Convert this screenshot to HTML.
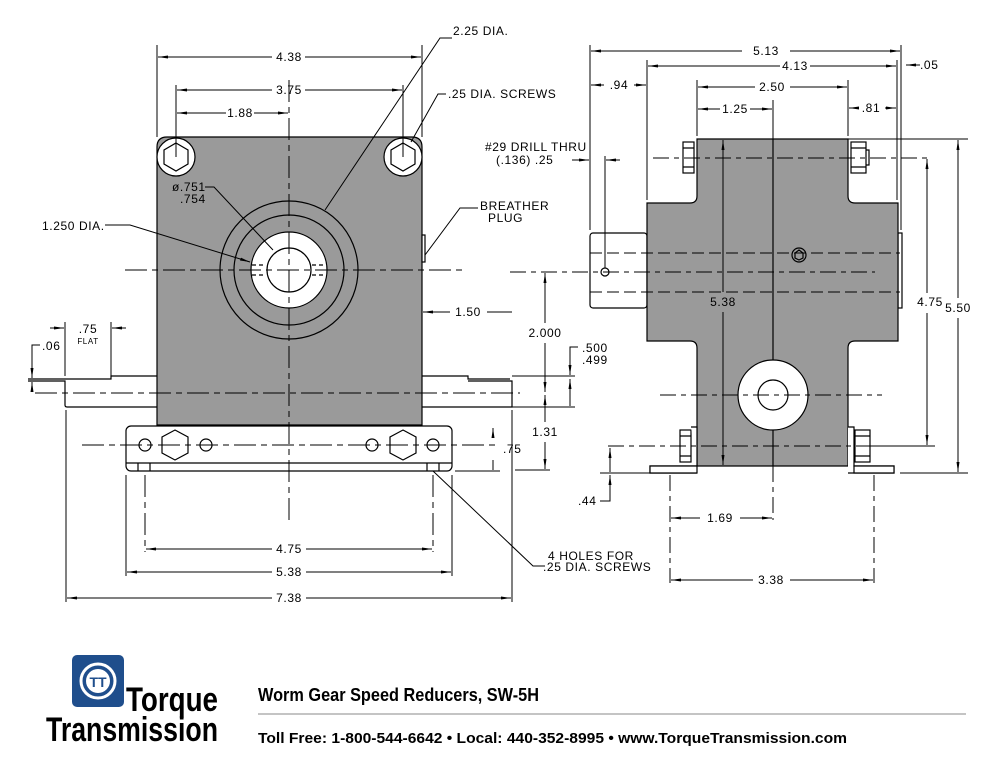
<!DOCTYPE html>
<html><head><meta charset="utf-8"><style>
body{margin:0;background:#fff;width:1000px;height:773px;overflow:hidden}
svg text{font-family:"Liberation Sans",sans-serif;fill:#000}
.d text{letter-spacing:0.6px}
</style></head><body>
<svg width="1000" height="773" viewBox="0 0 1000 773" xmlns="http://www.w3.org/2000/svg">
<defs>
<marker id="a" viewBox="0 0 10 6" refX="10" refY="3" markerWidth="10" markerHeight="6" orient="auto-start-reverse" markerUnits="userSpaceOnUse"><path d="M0,1.5 L10,3 L0,4.5" fill="#000"/></marker>
</defs>
<g stroke="#000" stroke-width="1.2" fill="none">
<path d="M157,425 V147 Q157,137 167,137 H412 Q422,137 422,147 V425 Z" fill="#9a9a9a"/>
<circle cx="176" cy="157" r="19" fill="#fff"/><circle cx="403" cy="157" r="19" fill="#fff"/>
<polygon points="176,143 188,150 188,164 176,171 164,164 164,150"/>
<polygon points="403,143 415,150 415,164 403,171 391,164 391,150"/>
<circle cx="289" cy="270" r="69"/><circle cx="289" cy="270" r="55"/>
<circle cx="289" cy="270" r="38" fill="#fff"/><circle cx="289" cy="270" r="22"/>
<path d="M252,265 H266 M252,275 H266 M312,265 H326 M312,275 H326" stroke-dasharray="4 3"/>
<rect x="422" y="235" width="3" height="27" fill="#fff"/>
<path d="M157,376 H111 V379 H28 M28,381 H65 V405 Q65,407 67,407 H157" fill="#fff"/>
<path d="M422,376 H468 V379 H510 M422,407 H512 V381 H468"/>
<rect x="126" y="426" width="326" height="45" rx="5" fill="#fff"/>
<path d="M126,463 H452 M138,463 V471 M150,463 V471 M427,463 V471 M439,463 V471"/>
<circle cx="145" cy="445" r="6"/><circle cx="206" cy="445" r="6"/><circle cx="372" cy="445" r="6"/><circle cx="433" cy="445" r="6"/>
<polygon points="175,430 188,437 188,453 175,460 162,453 162,437"/>
<polygon points="403,430 416,437 416,453 403,460 390,453 390,437"/>
<g stroke-width="1" stroke-dasharray="22 5 6 5">
<path d="M289,80 V520"/><path d="M125,270 H462"/><path d="M35,393 H520"/><path d="M82,445 H500"/>
<path d="M145,475 V552 M433,475 V552"/>
</g>
<g stroke-width="1">
<path d="M157,45 V137 M422,45 V137 M176,85 V157 M403,85 V157 M126,475 V576 M452,475 V576 M66,410 V602 M512,410 V602"/>
<path d="M65,322 V376 M111,322 V376"/>
<path d="M158,57 H272 M305,57 H421" marker-start="url(#a)" marker-end="url(#a)"/>
<path d="M177,90 H272 M305,90 H402" marker-start="url(#a)" marker-end="url(#a)"/>
<path d="M177,113 H226 M254,113 H288" marker-start="url(#a)" marker-end="url(#a)"/>
<path d="M146,549 H272 M306,549 H432" marker-start="url(#a)" marker-end="url(#a)"/>
<path d="M127,572 H272 M306,572 H451" marker-start="url(#a)" marker-end="url(#a)"/>
<path d="M67,598 H272 M306,598 H511" marker-start="url(#a)" marker-end="url(#a)"/>
<path d="M423,312 H450" marker-start="url(#a)"/><path d="M487,312 H512"/>
<path d="M50,328 H64" marker-end="url(#a)"/><path d="M126,328 H112" marker-end="url(#a)"/>
<path d="M40,345 H32 V378" marker-end="url(#a)"/><path d="M32,392 V382" marker-end="url(#a)"/>
<path d="M493,428 V437 M493,460 V470" marker-start="url(#a)"/>
<path d="M455,471 H500"/>
<path d="M105,225 H130 L250,262" marker-end="url(#a)"/>
<path d="M205,187 H214 L273,250"/>
<path d="M452,38 H440 L325,210"/>
<path d="M446,94 H438 L411,142"/>
<path d="M478,208 H460 L425,255"/>
<path d="M545,566 H533 L433,471"/>
</g>
<rect x="590" y="233" width="57" height="75" rx="3" fill="#fff"/>
<rect x="898" y="233" width="4" height="75" fill="#fff"/>
<path d="M697,139 H848 V196 Q848,203 855,203 H898 V341 H855 Q848,341 848,348 V466 H697 V348 Q697,341 690,341 H647 V203 H690 Q697,203 697,196 Z" fill="#9a9a9a"/>
<path d="M773,139 V466"/>
<circle cx="773" cy="395" r="35" fill="#fff"/><circle cx="773" cy="395" r="15"/>
<circle cx="799" cy="255" r="7"/><polygon points="799,250 803,253 803,258 799,260 795,258 795,253"/>
<circle cx="605" cy="272" r="4"/>
<rect x="683" y="142" width="11" height="31" fill="#fff"/><rect x="851" y="142" width="15" height="31" fill="#fff"/>
<path d="M683,148 H694 M683,167 H694 M851,148 H866 M851,167 H866 M866,150 H869 V165 H866"/>
<rect x="680" y="430" width="11" height="32" fill="#fff"/><rect x="855" y="430" width="15" height="32" fill="#fff"/>
<path d="M680,436 H691 M680,456 H691 M855,436 H870 M855,456 H870"/>
<path d="M691,427 H697 V466 H650 V473 H697" fill="#fff"/>
<path d="M848,427 H854 V466 H894 V473 H848" fill="#fff"/>
<path d="M650,466 H697 V473 H650 Z M854,466 H894 V473 H854 Z" fill="#fff"/>
<g stroke-width="1" stroke-dasharray="16 5 5 5">
<path d="M653,158 H930"/><path d="M608,446 H930"/>
<path d="M590,253 H900 M590,292 H900" stroke-dasharray="12 5"/>
<path d="M510,272 H875"/><path d="M660,395 H882"/>
<path d="M773,466 V520"/><path d="M670,475 V583 M874,475 V583"/>
</g>
<g stroke-width="1">
<path d="M590,45 V230 M647,60 V200 M697,80 V136 M848,80 V136 M901,45 V230 M897,60 V200 M773,100 V139"/>
<path d="M591,51 H742 M790,51 H900" marker-start="url(#a)" marker-end="url(#a)"/>
<path d="M648,66 H780 M810,66 H896" marker-start="url(#a)" marker-end="url(#a)"/>
<path d="M906,65 H920" marker-start="url(#a)"/>
<path d="M591,85 H604 M634,85 H646" marker-start="url(#a)" marker-end="url(#a)"/>
<path d="M698,87 H755 M790,87 H847" marker-start="url(#a)" marker-end="url(#a)"/>
<path d="M698,109 H720 M750,109 H772" marker-start="url(#a)" marker-end="url(#a)"/>
<path d="M849,108 H858 M885,108 H896" marker-start="url(#a)" marker-end="url(#a)"/>
<path d="M572,160 H589" marker-end="url(#a)"/><path d="M620,160 H606" marker-end="url(#a)"/>
<path d="M605,156 V268"/>
<path d="M723,140 V292 M723,312 V465" marker-start="url(#a)" marker-end="url(#a)"/>
<path d="M927,159 V293 M927,313 V445" marker-start="url(#a)" marker-end="url(#a)"/>
<path d="M958,140 V298 M958,318 V472" marker-start="url(#a)" marker-end="url(#a)"/>
<path d="M848,139 H968 M900,473 H968 M872,446 H935"/>
<path d="M545,273 V323 M545,343 V392" marker-start="url(#a)" marker-end="url(#a)"/>
<path d="M545,395 V422 M545,442 V469" marker-start="url(#a)" marker-end="url(#a)"/>
<path d="M515,470 H550"/>
<path d="M578,347 H570 V375" marker-end="url(#a)"/><path d="M570,406 V379" marker-end="url(#a)"/>
<path d="M512,376 H575 M512,407 H575"/>
<path d="M610,472 V448" marker-end="url(#a)"/><path d="M600,501 H610 V475" marker-end="url(#a)"/>
<path d="M600,473 H650"/>
<path d="M671,518 H700 M740,518 H772" marker-start="url(#a)" marker-end="url(#a)"/>
<path d="M671,580 H753 M790,580 H873" marker-start="url(#a)" marker-end="url(#a)"/>
</g>
<path d="M258,714 H966" stroke="#888" stroke-width="1"/>
</g>
<g font-size="12" class="d">
<text x="289" y="61" text-anchor="middle">4.38</text>
<text x="289" y="94" text-anchor="middle">3.75</text>
<text x="240" y="117" text-anchor="middle">1.88</text>
<text x="453" y="35">2.25 DIA.</text>
<text x="448" y="98">.25 DIA. SCREWS</text>
<text x="172" y="191">ø.751</text><text x="180" y="203">.754</text>
<text x="42" y="230">1.250 DIA.</text>
<text x="480" y="210">BREATHER</text><text x="488" y="222">PLUG</text>
<text x="468" y="316" text-anchor="middle">1.50</text>
<text x="88" y="333" text-anchor="middle">.75</text>
<text x="88" y="344" text-anchor="middle" font-size="8">FLAT</text>
<text x="42" y="350">.06</text>
<text x="503" y="453">.75</text>
<text x="289" y="553" text-anchor="middle">4.75</text>
<text x="289" y="576" text-anchor="middle">5.38</text>
<text x="289" y="602" text-anchor="middle">7.38</text>
<text x="548" y="560">4  HOLES FOR</text>
<text x="543" y="571">.25 DIA. SCREWS</text>
<text x="766" y="55" text-anchor="middle">5.13</text>
<text x="795" y="70" text-anchor="middle">4.13</text>
<text x="920" y="69">.05</text>
<text x="619" y="89" text-anchor="middle">.94</text>
<text x="772" y="91" text-anchor="middle">2.50</text>
<text x="735" y="113" text-anchor="middle">1.25</text>
<text x="871" y="112" text-anchor="middle">.81</text>
<text x="485" y="151">#29 DRILL THRU</text>
<text x="496" y="164">(.136)  .25</text>
<text x="723" y="306" text-anchor="middle">5.38</text>
<text x="930" y="306" text-anchor="middle">4.75</text>
<text x="958" y="312" text-anchor="middle">5.50</text>
<text x="545" y="337" text-anchor="middle">2.000</text>
<text x="545" y="436" text-anchor="middle">1.31</text>
<text x="582" y="352">.500</text><text x="582" y="364">.499</text>
<text x="578" y="505">.44</text>
<text x="720" y="522" text-anchor="middle">1.69</text>
<text x="771" y="584" text-anchor="middle">3.38</text>
</g>
<rect x="72" y="655" width="52" height="52" rx="5" fill="#1f4e8c"/>
<circle cx="98" cy="681" r="17" fill="none" stroke="#fff" stroke-width="3"/>
<circle cx="98" cy="681" r="12" fill="#fff"/>
<text x="98" y="687" text-anchor="middle" font-size="14" font-weight="bold" style="fill:#1f4e8c">TT</text>
<text x="126" y="711" font-size="34" font-weight="bold" textLength="92" lengthAdjust="spacingAndGlyphs">Torque</text>
<text x="46" y="741" font-size="34" font-weight="bold" textLength="172" lengthAdjust="spacingAndGlyphs">Transmission</text>
<text x="258" y="701" font-size="18" font-weight="bold" textLength="281" lengthAdjust="spacingAndGlyphs">Worm Gear Speed Reducers, SW-5H</text>
<text x="258" y="743" font-size="15" font-weight="bold" textLength="589" lengthAdjust="spacingAndGlyphs">Toll Free: 1-800-544-6642  •  Local: 440-352-8995  •  www.TorqueTransmission.com</text>
</svg>
</body></html>
